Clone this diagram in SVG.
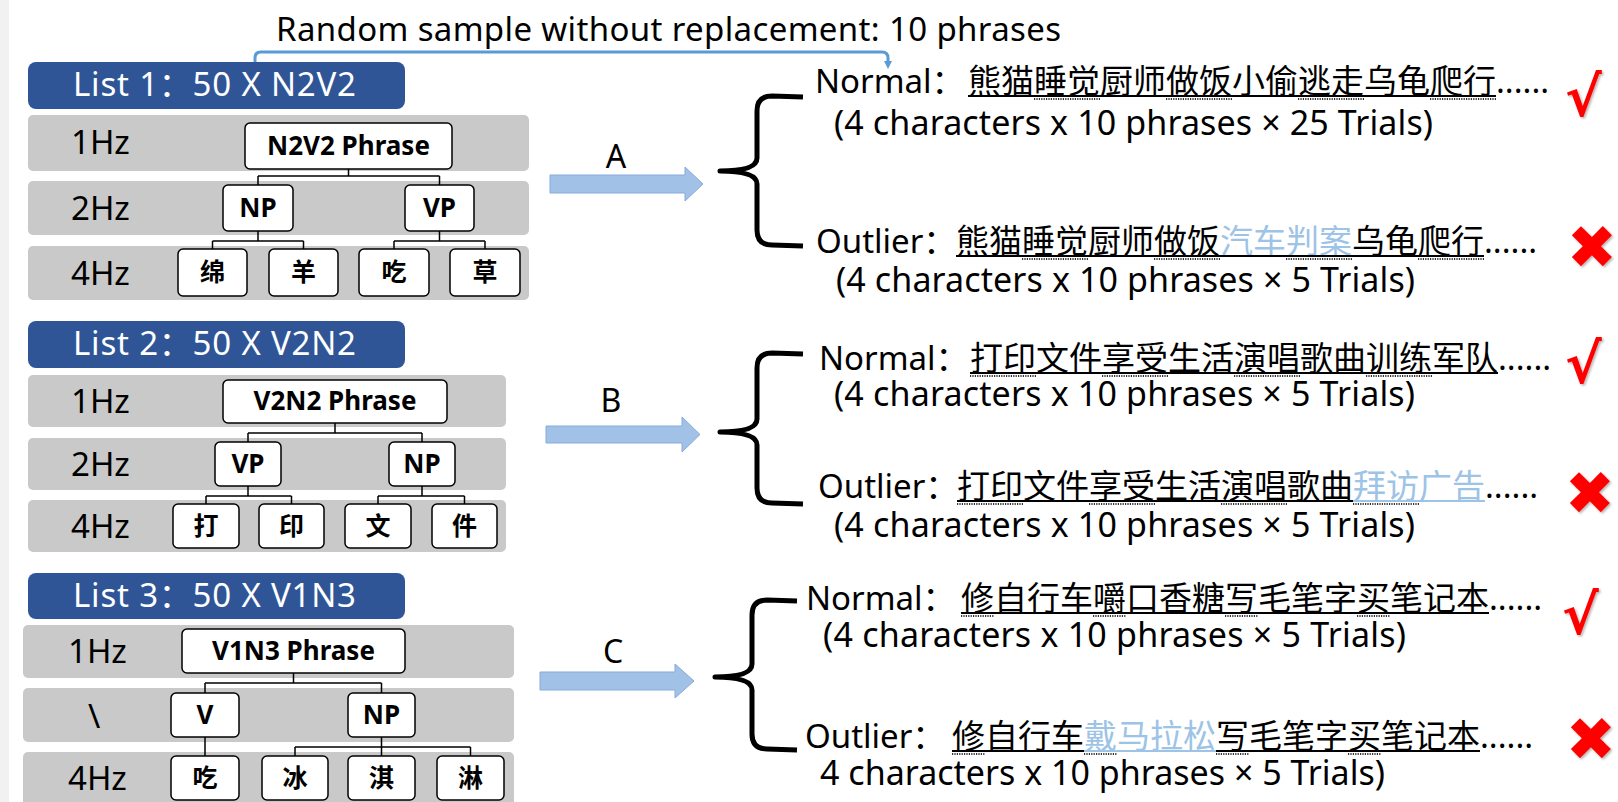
<svg xmlns="http://www.w3.org/2000/svg" width="1618" height="802" viewBox="0 0 1618 802">
  <defs>
    <style>
      .row{fill:#C9C9C9}
      .hdr{fill:#2F5597}
      .hdrt{font-family:'Noto Sans','Noto Sans CJK SC',sans-serif;font-size:33px;fill:#fff}
      .hz{font-family:'Noto Sans','Noto Sans CJK SC',sans-serif;font-size:33px;fill:#000}
      .box{fill:#fff;stroke:#000;stroke-width:1.5}
      .bt{font-family:'Noto Sans','Noto Sans CJK SC',sans-serif;font-weight:700;font-size:26px;text-anchor:middle;fill:#000}
      .ct{font-family:'Noto Sans CJK SC',sans-serif;font-weight:700;font-size:25px;text-anchor:middle;fill:#000}
      .tree{fill:none;stroke:#000;stroke-width:1.5}
      .brace{fill:none;stroke:#000;stroke-width:5;stroke-linejoin:round;stroke-linecap:butt}
      .arr{fill:#A2C1E6;stroke:#86ABDB;stroke-width:1}
      .abc{font-family:'Noto Sans',sans-serif;font-size:32px;text-anchor:middle;fill:#000}
      .tx{font-family:'Noto Sans','Noto Sans CJK SC',sans-serif;font-size:33px;fill:#000}
      .cnt{font-family:'Noto Sans','Noto Sans CJK SC',sans-serif;font-size:34px;fill:#000}
      .hi{fill:#9DC3E6}
      .ul{stroke:#000;stroke-width:2}
      .ulh{stroke:#9DC3E6;stroke-width:2}
      .sq{stroke:#333;stroke-width:2;stroke-dasharray:1.2 1.2}
      .ok{font-family:'DejaVu Sans',sans-serif;font-weight:700;font-size:55px;fill:#F00}
      .no{font-family:'DejaVu Sans',sans-serif;font-size:60px;fill:#F00;text-anchor:middle}
      .link{fill:none;stroke:#5B9BD5;stroke-width:3}
    </style>
    <marker id="ah" viewBox="0 0 8 8" refX="0" refY="4" markerWidth="8" markerHeight="8" markerUnits="userSpaceOnUse" orient="auto">
      <path d="M0,0 L8,4 L0,8 z" fill="#5B9BD5"/>
    </marker>
    <filter id="sh" x="-20%" y="-20%" width="150%" height="150%">
      <feDropShadow dx="1.5" dy="1.5" stdDeviation="1" flood-color="#000" flood-opacity="0.3"/>
    </filter>
  </defs>

  <rect width="1618" height="802" fill="#fff"/>
  <rect x="0" y="0" width="9" height="802" fill="#F1F1F1"/>

  <!-- title -->
  <text id="title" class="tx" x="276" y="41" font-size="34" textLength="785">Random sample without replacement: 10 phrases</text>

  <!-- list 1 -->
  <g id="list1">
    <rect class="hdr" x="28" y="62" width="377" height="47" rx="8"/>
    <text class="hdrt" x="73" y="96" textLength="283">List 1：50 X N2V2</text>
    <rect class="row" x="28" y="115" width="501" height="56" rx="5"/>
    <rect class="row" x="28" y="181" width="501" height="54" rx="5"/>
    <rect class="row" x="28" y="246" width="501" height="54" rx="5"/>
    <text class="hz" x="71" y="154">1Hz</text>
    <text class="hz" x="71" y="220">2Hz</text>
    <text class="hz" x="71" y="285">4Hz</text>
  </g>
  <g id="l1-phrase"><rect class="box" x="245" y="123" width="207" height="46" rx="5"/><text class="bt" x="348.5" y="155">N2V2 Phrase</text></g>
  <g id="l1-np"><rect class="box" x="223" y="185" width="70" height="46" rx="5"/><text class="bt" x="258" y="217">NP</text></g>
  <g id="l1-vp"><rect class="box" x="405" y="185" width="69" height="46" rx="5"/><text class="bt" x="439.5" y="217">VP</text></g>
  <g id="l1-c1"><rect class="box" x="178" y="249" width="69" height="47" rx="5"/><text class="ct" x="212.5" y="281">绵</text></g>
  <g id="l1-c2"><rect class="box" x="269" y="249" width="69" height="47" rx="5"/><text class="ct" x="303.5" y="281">羊</text></g>
  <g id="l1-c3"><rect class="box" x="359" y="249" width="70" height="47" rx="5"/><text class="ct" x="394" y="281">吃</text></g>
  <g id="l1-c4"><rect class="box" x="450" y="249" width="70" height="47" rx="5"/><text class="ct" x="485" y="281">草</text></g>

  <!-- list 2 -->
  <g id="list2">
    <rect class="hdr" x="28" y="321" width="377" height="47" rx="8"/>
    <text class="hdrt" x="73" y="355" textLength="283">List 2：50 X V2N2</text>
    <rect class="row" x="28" y="375" width="478" height="52" rx="5"/>
    <rect class="row" x="28" y="438" width="478" height="52" rx="5"/>
    <rect class="row" x="28" y="500" width="478" height="52" rx="5"/>
    <text class="hz" x="71" y="413">1Hz</text>
    <text class="hz" x="71" y="476">2Hz</text>
    <text class="hz" x="71" y="538">4Hz</text>
  </g>
  <g id="l2-phrase"><rect class="box" x="223" y="380" width="224" height="43" rx="5"/><text class="bt" x="335" y="410">V2N2 Phrase</text></g>
  <g id="l2-vp"><rect class="box" x="215" y="442" width="66" height="44" rx="5"/><text class="bt" x="248" y="473">VP</text></g>
  <g id="l2-np"><rect class="box" x="389" y="442" width="66" height="44" rx="5"/><text class="bt" x="422" y="473">NP</text></g>
  <g id="l2-c1"><rect class="box" x="173" y="504" width="66" height="44" rx="5"/><text class="ct" x="206" y="535">打</text></g>
  <g id="l2-c2"><rect class="box" x="259" y="504" width="65" height="44" rx="5"/><text class="ct" x="291.5" y="535">印</text></g>
  <g id="l2-c3"><rect class="box" x="345" y="504" width="66" height="44" rx="5"/><text class="ct" x="378" y="535">文</text></g>
  <g id="l2-c4"><rect class="box" x="432" y="504" width="65" height="44" rx="5"/><text class="ct" x="464.5" y="535">件</text></g>

  <!-- list 3 -->
  <g id="list3">
    <rect class="hdr" x="28" y="573" width="377" height="46" rx="8"/>
    <text class="hdrt" x="73" y="607" textLength="283">List 3：50 X V1N3</text>
    <rect class="row" x="23" y="625" width="491" height="53" rx="5"/>
    <rect class="row" x="23" y="688" width="491" height="54" rx="5"/>
    <rect class="row" x="23" y="752" width="491" height="56" rx="5"/>
    <text class="hz" x="68" y="663">1Hz</text>
    <text class="hz" x="88" y="728">\</text>
    <text class="hz" x="68" y="790">4Hz</text>
  </g>
  <g id="l3-phrase"><rect class="box" x="182" y="629" width="223" height="44" rx="5"/><text class="bt" x="293.5" y="660">V1N3 Phrase</text></g>
  <g id="l3-v"><rect class="box" x="171" y="693" width="68" height="44" rx="5"/><text class="bt" x="205" y="724">V</text></g>
  <g id="l3-np"><rect class="box" x="348" y="693" width="67" height="44" rx="5"/><text class="bt" x="381.5" y="724">NP</text></g>
  <g id="l3-c1"><rect class="box" x="171" y="756" width="68" height="44" rx="5"/><text class="ct" x="205" y="787">吃</text></g>
  <g id="l3-c2"><rect class="box" x="262" y="756" width="66" height="44" rx="5"/><text class="ct" x="295" y="787">冰</text></g>
  <g id="l3-c3"><rect class="box" x="348" y="756" width="67" height="44" rx="5"/><text class="ct" x="381.5" y="787">淇</text></g>
  <g id="l3-c4"><rect class="box" x="437" y="756" width="67" height="44" rx="5"/><text class="ct" x="470.5" y="787">淋</text></g>

  <!-- connectors -->
  <g id="connectors">
    <path class="tree" d="M348.5 169V176M258 176H439.5M258 176V185M439.5 176V185M258 231V241M212.5 241H303.5M212.5 241V249M303.5 241V249M439.5 231V241M394 241H485M394 241V249M485 241V249"/>
    <path class="tree" d="M335 423V433M248 433H422M248 433V442M422 433V442M248 486V496M206 496H291.5M206 496V504M291.5 496V504M422 486V496M378 496H464.5M378 496V504M464.5 496V504"/>
    <path class="tree" d="M293.5 673V683M205 683H381.5M205 683V693M381.5 683V693M205 737V756M381.5 737V747M295 747H470.5M295 747V756M381.5 747V756M470.5 747V756"/>

    <path class="link" d="M255 62V58Q255 52 261 52H882Q888 52 888 58V61" marker-end="url(#ah)"/>

    <polygon class="arr" points="550,175 685,175 685,167 703,184 685,201 685,193 550,193"/>
    <polygon class="arr" points="546,426 682,426 682,417 700,434.5 682,452 682,443 546,443"/>
    <polygon class="arr" points="540,672 675,672 675,664 694,681 675,698 675,690 540,690"/>
    <text class="abc" x="616" y="168">A</text>
    <text class="abc" x="611" y="412">B</text>
    <text class="abc" x="613" y="663">C</text>

    <path class="brace" d="M803 97L772 96Q757 96 757 111L757 158Q757 171 720 171Q757 171 757 184L757 230Q757 245 772 245L803 246"/>
    <path class="brace" d="M803 354L772 353Q757 353 757 368L757 419Q757 432 720 432Q757 432 757 445L757 488Q757 503 772 503L803 504"/>
    <path class="brace" d="M797 601L767 600Q752 600 752 615L752 664Q752 677 715 677Q752 677 752 690L752 734Q752 749 767 749L797 750"/>
  </g>

  <!-- condition A -->
  <g id="a-normal">
    <text class="tx" x="815" y="93">Normal：</text>
    <text class="tx" x="968" y="93">熊猫睡觉厨师做饭小偷逃走乌龟爬行......</text>
    <line class="ul" x1="968" y1="96" x2="1496" y2="96"/>
    <path class="sq" d="M1034 99H1100M1166 99H1232M1298 99H1364M1430 99H1496"/>
    <text class="cnt" x="834" y="135" textLength="599">(4 characters x 10 phrases × 25 Trials)</text>
    <text class="ok" x="1565" y="116" filter="url(#sh)">√</text>
  </g>
  <g id="a-outlier">
    <text class="tx" x="816" y="253">Outlier：</text>
    <text class="tx" x="956" y="253">熊猫睡觉厨师做饭</text>
    <text class="tx hi" x="1220" y="253">汽车判案</text>
    <text class="tx" x="1352" y="253">乌龟爬行......</text>
    <line class="ul" x1="956" y1="256" x2="1484" y2="256"/>
    <path class="sq" d="M1022 259H1088M1154 259H1220M1286 259H1352M1418 259H1484"/>
    <text class="cnt" x="836" y="292" textLength="579">(4 characters x 10 phrases × 5 Trials)</text>
    <text class="no" x="1592" y="268" filter="url(#sh)">✖</text>
  </g>

  <!-- condition B -->
  <g id="b-normal">
    <text class="tx" x="819" y="370">Normal：</text>
    <text class="tx" x="970" y="370">打印文件享受生活演唱歌曲训练军队......</text>
    <line class="ul" x1="970" y1="373" x2="1498" y2="373"/>
    <path class="sq" d="M970 376H1036M1102 376H1168M1234 376H1300M1366 376H1432"/>
    <text class="cnt" x="834" y="406" textLength="581">(4 characters x 10 phrases × 5 Trials)</text>
    <text class="ok" x="1565" y="383" filter="url(#sh)">√</text>
  </g>
  <g id="b-outlier">
    <text class="tx" x="818" y="498">Outlier：</text>
    <text class="tx" x="957" y="498">打印文件享受生活演唱歌曲</text>
    <text class="tx hi" x="1353" y="498">拜访广告</text>
    <text class="tx" x="1485" y="498">......</text>
    <line class="ul" x1="957" y1="501" x2="1353" y2="501"/>
    <line class="ulh" x1="1353" y1="501" x2="1485" y2="501"/>
    <path class="sq" d="M957 504H1023M1089 504H1155M1221 504H1287M1353 504H1419"/>
    <text class="cnt" x="834" y="537" textLength="581">(4 characters x 10 phrases × 5 Trials)</text>
    <text class="no" x="1590" y="514" filter="url(#sh)">✖</text>
  </g>

  <!-- condition C -->
  <g id="c-normal">
    <text class="tx" x="806" y="610">Normal：</text>
    <text class="tx" x="961" y="610">修自行车嚼口香糖写毛笔字买笔记本......</text>
    <line class="ul" x1="961" y1="613" x2="1489" y2="613"/>
    <path class="sq" d="M961 616H994M1093 616H1126M1225 616H1258M1357 616H1390"/>
    <text class="cnt" x="823" y="647" textLength="583">(4 characters x 10 phrases × 5 Trials)</text>
    <text class="ok" x="1562" y="634" filter="url(#sh)">√</text>
  </g>
  <g id="c-outlier">
    <text class="tx" x="805" y="748">Outlier：</text>
    <text class="tx" x="952" y="748">修自行车</text>
    <text class="tx hi" x="1084" y="748">戴马拉松</text>
    <text class="tx" x="1216" y="748">写毛笔字买笔记本......</text>
    <line class="ul" x1="952" y1="751" x2="1084" y2="751"/>
    <line class="ulh" x1="1084" y1="751" x2="1216" y2="751"/>
    <line class="ul" x1="1216" y1="751" x2="1480" y2="751"/>
    <path class="sq" d="M952 754H985M1084 754H1117M1216 754H1249M1348 754H1381"/>
    <text class="cnt" x="820" y="785" textLength="565">4 characters x 10 phrases × 5 Trials)</text>
    <text class="no" x="1591" y="760" filter="url(#sh)">✖</text>
  </g>
</svg>
